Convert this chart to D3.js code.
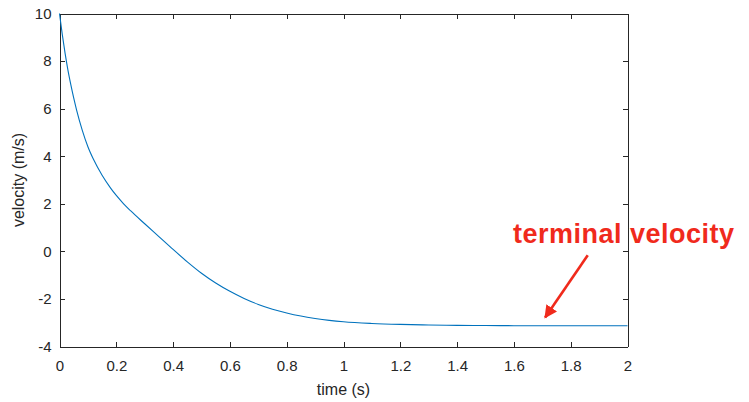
<!DOCTYPE html>
<html>
<head>
<meta charset="utf-8">
<script src="https://cdn.jsdelivr.net/npm/d3@7"></script>
<style>
  body { margin: 0; background: #fff; }
  svg text { font-family: "Liberation Sans", Arial, Helvetica, sans-serif; }
  .axis path, .axis line { stroke: #262626; stroke-width: 1; shape-rendering: crispEdges; }
  .axis text { fill: #262626; font-size: 15px; }
</style>
</head>
<body>
<div id="chart"></div>
<script>
// velocity over time
var timeVals = [0, 0.01, 0.02, 0.03, 0.04, 0.05, 0.06, 0.08, 0.10, 0.12, 0.15, 0.18, 0.20, 0.225, 0.25, 0.30, 0.35, 0.40, 0.45, 0.50, 0.55, 0.60, 0.65, 0.70, 0.75, 0.80, 0.85, 0.90, 0.95, 1.0, 1.1, 1.2, 1.3, 1.4, 1.5, 1.6, 1.7, 1.8, 1.9, 2.0];
var velocityVals = [10, 9.1, 8.3, 7.6, 7.0, 6.45, 5.95, 5.1, 4.4, 3.86, 3.2, 2.66, 2.35, 2.01, 1.71, 1.16, 0.62, 0.08, -0.44, -0.92, -1.33, -1.68, -1.98, -2.23, -2.43, -2.59, -2.72, -2.82, -2.9, -2.96, -3.03, -3.07, -3.095, -3.11, -3.12, -3.125, -3.13, -3.13, -3.13, -3.13];
var xTicks = [0, 0.2, 0.4, 0.6, 0.8, 1, 1.2, 1.4, 1.6, 1.8, 2];
var yTicks = [-4, -2, 0, 2, 4, 6, 8, 10];
var annotationText = "terminal velocity";

var W = 749, H = 402;
var margin = {left: 59.5, top: 13.5, right: 749 - 627.5, bottom: 402 - 346.5};

var svg = d3.select("#chart").append("svg")
    .attr("width", W).attr("height", H);

var x = d3.scaleLinear().domain([0, 2]).range([margin.left, W - margin.right]);
var y = d3.scaleLinear().domain([-4, 10]).range([H - margin.bottom, margin.top]);

var fmt = function(d){ return String(d); };

// main axes, ticks pointing inward
svg.append("g").attr("class","axis")
    .attr("transform", `translate(0,${y(-4)})`)
    .call(d3.axisBottom(x).tickValues(xTicks).tickFormat(fmt).tickSizeInner(-5).tickSizeOuter(0).tickPadding(14));
svg.append("g").attr("class","axis")
    .attr("transform", `translate(${x(0)},0)`)
    .call(d3.axisLeft(y).tickValues(yTicks).tickFormat(fmt).tickSizeInner(-5).tickSizeOuter(0).tickPadding(8));
// box: top and right
svg.append("g").attr("class","axis")
    .attr("transform", `translate(0,${y(10)})`)
    .call(d3.axisTop(x).tickValues(xTicks).tickFormat("").tickSizeInner(-5).tickSizeOuter(0));
svg.append("g").attr("class","axis")
    .attr("transform", `translate(${x(2)},0)`)
    .call(d3.axisRight(y).tickValues(yTicks).tickFormat("").tickSizeInner(-5).tickSizeOuter(0));

svg.selectAll(".axis text").attr("font-family", null);

// axis labels
svg.append("text")
    .attr("x", x(1)).attr("y", 395)
    .attr("text-anchor","middle")
    .attr("fill","#262626").attr("font-size","16px")
    .text("time (s)");
svg.append("text")
    .attr("transform", `translate(24,${y(3)}) rotate(-90)`)
    .attr("text-anchor","middle")
    .attr("fill","#262626").attr("font-size","16px")
    .text("velocity (m/s)");

// the curve
var line = d3.line()
    .x(function(d){ return x(d[0]); })
    .y(function(d){ return y(d[1]); })
    .curve(d3.curveMonotoneX);
svg.append("path")
    .datum(timeVals.map(function(t,i){ return [t, velocityVals[i]]; }))
    .attr("fill","none")
    .attr("stroke","#0072BD")
    .attr("stroke-width",1.1)
    .attr("d", line);

// annotation
var red = "#f02a1c";
svg.append("defs").append("marker")
    .attr("id","arrowhead")
    .attr("viewBox","0 0 10 10")
    .attr("refX",9).attr("refY",5)
    .attr("markerWidth",5).attr("markerHeight",5)
    .attr("markerUnits","strokeWidth")
    .attr("orient","auto")
  .append("path")
    .attr("d","M0,0 L10,5 L0,10 z")
    .attr("fill", red);

svg.append("line")
    .attr("x1", x(1.86)).attr("y1", y(-0.16))
    .attr("x2", x(1.71)).attr("y2", y(-2.78))
    .attr("stroke", red).attr("stroke-width", 2.6)
    .attr("marker-end","url(#arrowhead)");

svg.append("text")
    .attr("x", 513).attr("y", 243)
    .attr("fill", red)
    .attr("font-size","27px")
    .attr("font-weight","bold")
    .attr("letter-spacing","0.5px")
    .text(annotationText);
</script>
</body>
</html>
